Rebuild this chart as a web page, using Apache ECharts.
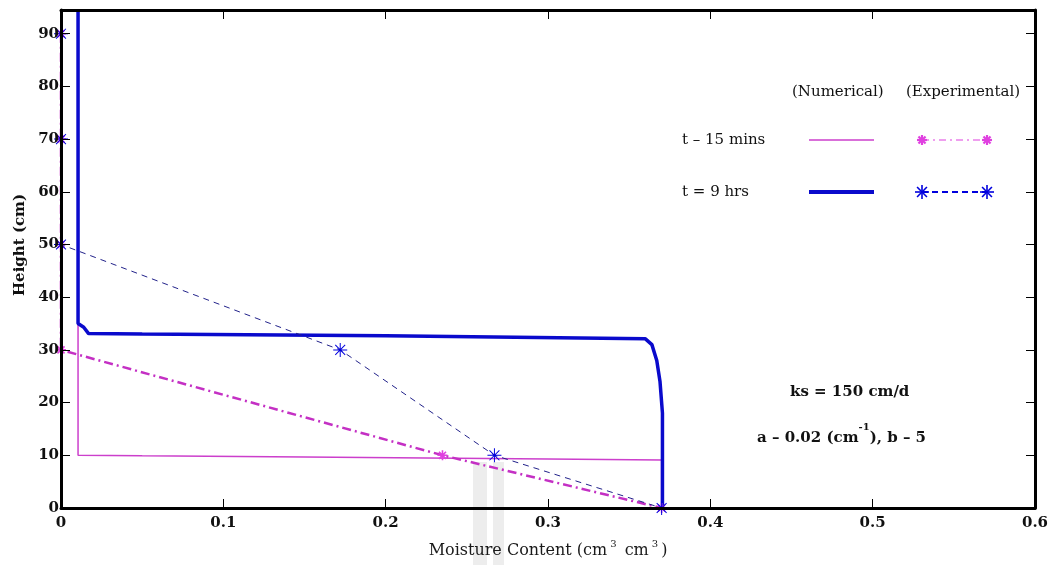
<!DOCTYPE html>
<html>
<head>
<meta charset="utf-8">
<title>Moisture content profiles</title>
<script src="https://cdn.jsdelivr.net/npm/echarts@6/dist/echarts.min.js"></script>
<style>
  html, body { margin: 0; padding: 0; background: #ffffff; }
  #chart { width: 1053px; height: 565px; }
</style>
</head>
<body>
<div id="chart"></div>
<script>
// Numerical profile, t = 15 mins: [moisture content, height]
const num15min = [
  [0.0105, 94.5], [0.0105, 34.5], [0.0105, 10.0], [0.05, 9.9],
  [0.15, 9.7], [0.30, 9.3], [0.37, 9.1], [0.37, 0]
];
// Numerical profile, t = 9 hrs
const num9hrs = [
  [0.0105, 94.5], [0.0105, 35.0], [0.014, 34.3], [0.017, 33.1],
  [0.05, 33.0], [0.20, 32.7], [0.36, 32.1], [0.364, 31.0],
  [0.367, 28.0], [0.369, 24.0], [0.3705, 18.0], [0.3705, 0]
];
// Experimental points, t = 15 mins
const exp15minX = [0, 0, 0, 0, 0.235, 0.37];
const exp15minY = [90, 70, 50, 30, 10, 0];
// Experimental points, t = 9 hrs
const exp9hrsX = [0, 0, 0, 0.172, 0.267, 0.37];
const exp9hrsY = [90, 70, 50, 30, 10, 0];

const xTicks = [0, 0.1, 0.2, 0.3, 0.4, 0.5, 0.6];
const yTicks = [0, 10, 20, 30, 40, 50, 60, 70, 80, 90];

const FONT = 'DejaVu Serif';
const MAGENTA = '#cc3fcc';
const BLUE = '#0a0acc';

// asterisk marker made of four filled bars
function asteriskPath(w) {
  const d = w * 0.7071;
  const a = 0.7071;
  const p = (pts) => 'M' + pts.map(q => q[0].toFixed(3) + ',' + q[1].toFixed(3)).join(' L') + ' Z ';
  return 'path://' +
    p([[-w, -1], [w, -1], [w, 1], [-w, 1]]) +
    p([[-1, -w], [1, -w], [1, w], [-1, w]]) +
    p([[-a + d, -a - d], [a + d, a - d], [a - d, a + d], [-a - d, -a + d]]) +
    p([[a - d, -a - d], [a + d, -a + d], [-a + d, a + d], [-a - d, a - d]]);
}

function zip(xs, ys) { return xs.map((x, i) => [x, ys[i]]); }

// asterisk drawn with graphic lines (legend samples)
function starGraphic(cx, cy, r, color, lw) {
  const d = r * 0.7071;
  const seg = (x1, y1, x2, y2) => ({
    type: 'line', shape: { x1: cx + x1, y1: cy + y1, x2: cx + x2, y2: cy + y2 },
    style: { stroke: color, lineWidth: lw }
  });
  return [seg(-r, 0, r, 0), seg(0, -r, 0, r), seg(-d, -d, d, d), seg(-d, d, d, -d)];
}

const chart = echarts.init(document.getElementById('chart'), null, { renderer: 'canvas' });

const axisLineStyle = { color: '#000', width: 3 };
const tickStyle = { inside: true, length: 9, lineStyle: { color: '#000', width: 1 } };
const tickLabel = { color: '#111', fontFamily: FONT, fontWeight: 'bold', fontSize: 15 };

const option = {
  animation: false,
  backgroundColor: '#ffffff',
  grid: { left: 61, right: 18, top: 10, bottom: 57, containLabel: false, outerBoundsMode: 'none' },
  xAxis: [
    {
      type: 'value', min: 0, max: 0.6, interval: 0.1, position: 'bottom', z: 5,
      axisLine: { show: true, onZero: false, lineStyle: axisLineStyle },
      axisTick: Object.assign({ show: true }, tickStyle),
      splitLine: { show: false },
      axisLabel: Object.assign({
        margin: 8,
        customValues: xTicks,
        formatter: v => (v === 0 ? '0' : v.toFixed(1))
      }, tickLabel),
      name: '{n|Moisture Content (cm}{s|3}{n| cm}{s|3}{n|)}',
      nameLocation: 'middle', nameGap: 31,
      nameTextStyle: {
        rich: {
          n: { fontFamily: FONT, fontSize: 16, color: '#1a1a1a', verticalAlign: 'bottom', lineHeight: 20 },
          s: { fontFamily: FONT, fontSize: 10, color: '#1a1a1a', verticalAlign: 'top', lineHeight: 20, padding: [0, 3, 8, 3] }
        }
      }
    },
    {
      type: 'value', min: 0, max: 0.6, interval: 0.1, position: 'top', z: 5,
      axisLine: { show: true, onZero: false, lineStyle: axisLineStyle },
      axisTick: Object.assign({ show: true }, tickStyle),
      axisLabel: { show: false },
      splitLine: { show: false }
    }
  ],
  yAxis: [
    {
      type: 'value', min: 0, max: 94.5, interval: 10, position: 'left', z: 5,
      axisLine: { show: true, onZero: false, lineStyle: axisLineStyle },
      axisTick: Object.assign({ show: true, customValues: yTicks }, tickStyle),
      splitLine: { show: false },
      axisLabel: Object.assign({ margin: 2, customValues: yTicks }, tickLabel),
      name: 'Height (cm)',
      nameLocation: 'middle', nameGap: 33,
      nameTextStyle: { fontFamily: FONT, fontWeight: 'bold', fontSize: 15, color: '#111', padding: [0, 0, 0, 28] }
    },
    {
      type: 'value', min: 0, max: 94.5, interval: 10, position: 'right', z: 5,
      axisLine: { show: true, onZero: false, lineStyle: axisLineStyle },
      axisTick: Object.assign({ show: true, customValues: yTicks }, tickStyle),
      axisLabel: { show: false },
      splitLine: { show: false }
    }
  ],
  series: [
    {
      name: 't - 15 mins (Numerical)', type: 'line', data: num15min,
      symbol: 'none', z: 2,
      lineStyle: { color: MAGENTA, width: 1.5 }
    },
    {
      name: 't = 9 hrs (Numerical)', type: 'line', data: num9hrs,
      symbol: 'none', z: 3,
      lineStyle: { color: BLUE, width: 3.5 }
    },
    {
      name: 't - 15 mins (Experimental)', type: 'line', data: zip(exp15minX, exp15minY),
      symbol: asteriskPath(0.16), symbolSize: 10, showAllSymbol: true, z: 4,
      lineStyle: { color: '#c430c4', width: 2.5, type: [9, 4, 2, 4] },
      itemStyle: { color: '#e040e0' }
    },
    {
      name: 't = 9 hrs (Experimental)', type: 'line', data: zip(exp9hrsX, exp9hrsY),
      symbol: asteriskPath(0.07), symbolSize: 14, showAllSymbol: true, z: 4,
      lineStyle: { color: '#22228a', width: 1, type: [6, 5] },
      itemStyle: { color: '#0000dd' }
    }
  ],
  graphic: [
    // faint watermark bars
    { type: 'rect', z: 0, shape: { x: 473, y: 462, width: 14, height: 103 }, style: { fill: 'rgba(0,0,0,0.07)' } },
    { type: 'rect', z: 0, shape: { x: 493, y: 462, width: 11, height: 103 }, style: { fill: 'rgba(0,0,0,0.07)' } },
    // legend headers
    { type: 'text', z: 10, left: 792, top: 85, style: { text: '(Numerical)', font: '15px "DejaVu Serif"', fill: '#111' } },
    { type: 'text', z: 10, left: 906, top: 85, style: { text: '(Experimental)', font: '15px "DejaVu Serif"', fill: '#111' } },
    // legend rows
    { type: 'text', z: 10, left: 682, top: 133, style: { text: 't \u2013 15 mins', font: '15px "DejaVu Serif"', fill: '#111' } },
    { type: 'text', z: 10, left: 682, top: 185, style: { text: 't = 9 hrs', font: '15px "DejaVu Serif"', fill: '#111' } },
    { type: 'line', z: 10, shape: { x1: 809, y1: 140, x2: 874, y2: 140 }, style: { stroke: MAGENTA, lineWidth: 1.5 } },
    { type: 'line', z: 10, shape: { x1: 809, y1: 192, x2: 874, y2: 192 }, style: { stroke: BLUE, lineWidth: 4 } },
    { type: 'line', z: 10, shape: { x1: 922, y1: 140, x2: 987, y2: 140 }, style: { stroke: '#e040e0', lineWidth: 1.2, lineDash: [7, 4, 2, 4] } },
    { type: 'line', z: 10, shape: { x1: 922, y1: 192, x2: 987, y2: 192 }, style: { stroke: '#0000dd', lineWidth: 2, lineDash: [6, 4] } },
    { type: 'group', z: 10, children: starGraphic(922, 140, 5, '#e040e0', 2.2) },
    { type: 'group', z: 10, children: starGraphic(987, 140, 5, '#e040e0', 2.2) },
    { type: 'group', z: 10, children: starGraphic(922, 192, 7, '#0000dd', 1.6) },
    { type: 'group', z: 10, children: starGraphic(987, 192, 7, '#0000dd', 1.6) },
    // parameter annotations
    {
      type: 'text', z: 10, left: 790, top: 385,
      style: { text: 'ks = 150 cm/d', font: 'bold 15px "DejaVu Serif"', fill: '#111' }
    },
    {
      type: 'text', z: 10, left: 757, top: 422,
      style: {
        text: '{n|a \u2013 0.02 (cm}{s|-1}{n|), b \u2013 5}',
        rich: {
          n: { fontFamily: FONT, fontWeight: 'bold', fontSize: 15, fill: '#111', color: '#111', verticalAlign: 'bottom', lineHeight: 24 },
          s: { fontFamily: FONT, fontWeight: 'bold', fontSize: 10, fill: '#111', color: '#111', verticalAlign: 'top', lineHeight: 24, padding: [0, 0, 10, 0] }
        }
      }
    }
  ]
};

chart.setOption(option);
</script>
</body>
</html>
